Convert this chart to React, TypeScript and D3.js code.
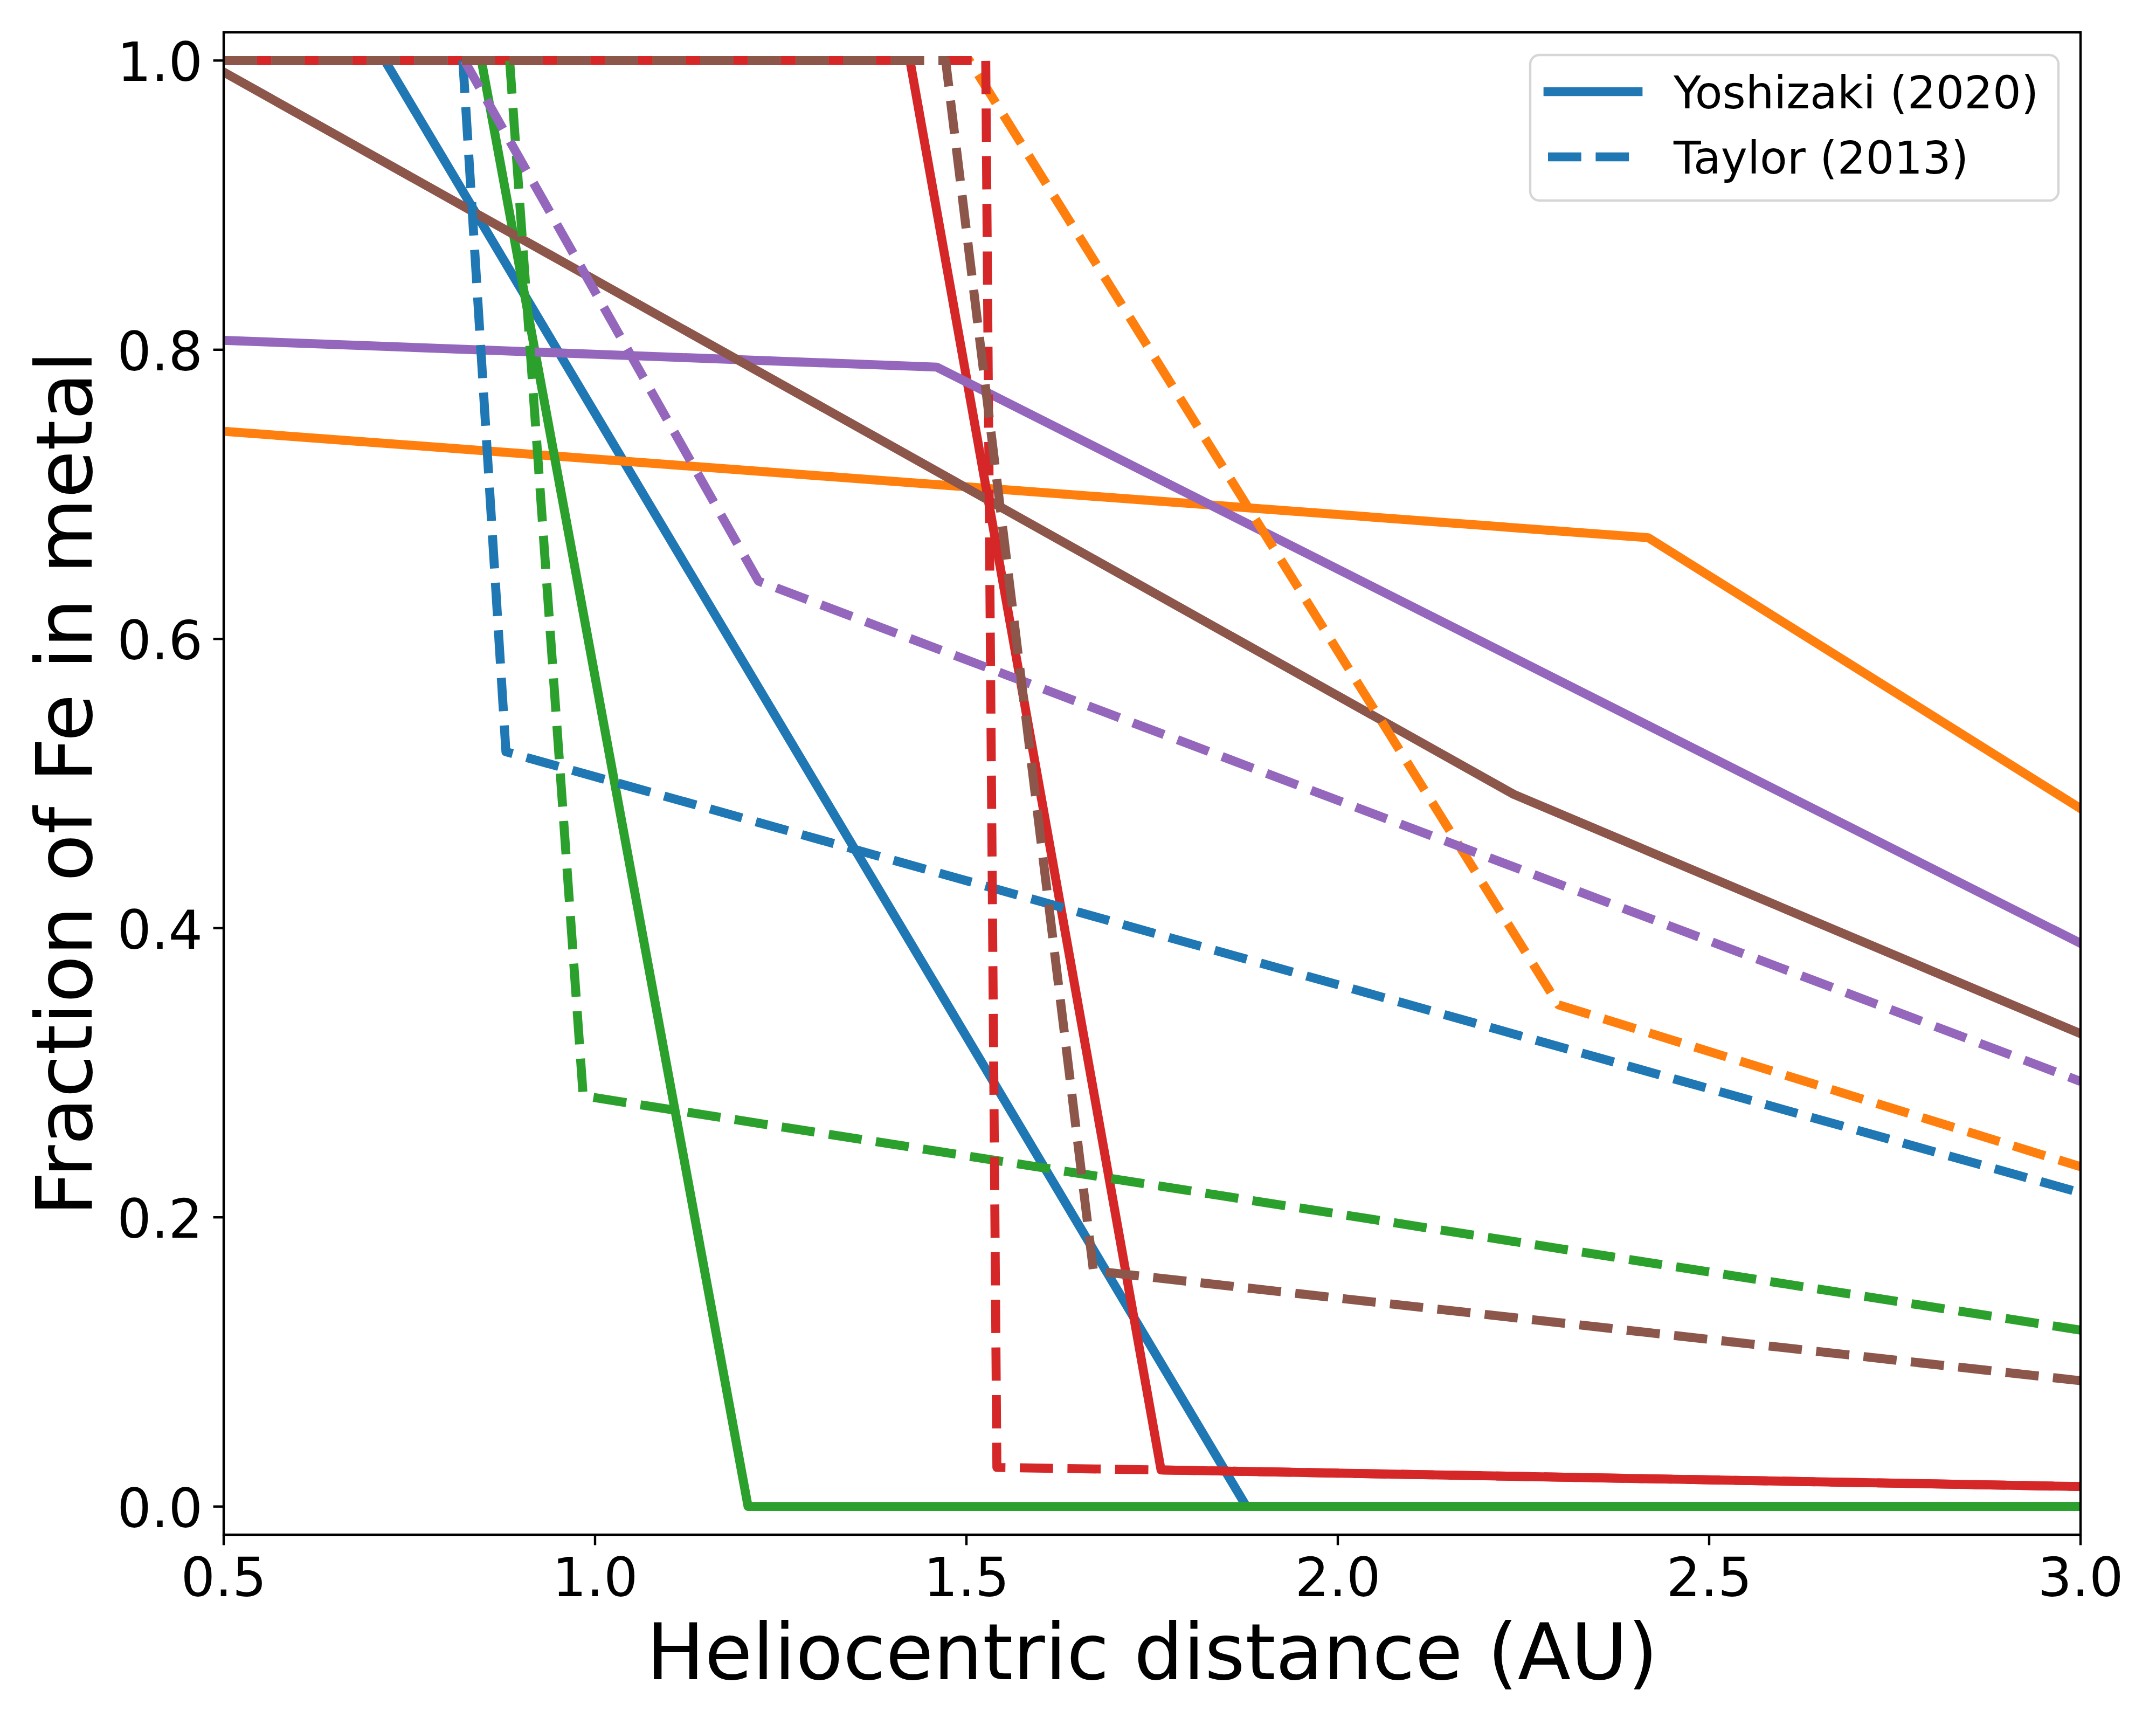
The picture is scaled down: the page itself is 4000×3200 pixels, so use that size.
import React, { useEffect, useRef } from 'react';
import * as d3 from 'd3';

type Pt = [number, number];

// Yoshizaki (2020) curves, one per colour (solid)
const yoshizakiBlue: Pt[] = [[0.5, 1.0], [0.717, 1.0], [1.877, 0.0], [3.0, 0.0]];
const yoshizakiOrange: Pt[] = [[0.5, 0.7436], [2.418, 0.67], [3.0, 0.4827]];
const yoshizakiGreen: Pt[] = [[0.5, 1.0], [0.847, 1.0], [1.206, 0.0], [3.0, 0.0]];
const yoshizakiRed: Pt[] = [[0.5, 1.0], [1.424, 1.0], [1.762, 0.0253], [3.0, 0.0138]];
const yoshizakiPurple: Pt[] = [[0.5, 0.8065], [1.46, 0.788], [3.0, 0.3895]];
const yoshizakiBrown: Pt[] = [[0.5, 0.992], [2.237, 0.4925], [3.0, 0.327]];

// Taylor (2013) curves (dashed)
const taylorBlue: Pt[] = [[0.5, 1.0], [0.822, 1.0], [0.88, 0.522], [3.0, 0.217]];
const taylorOrange: Pt[] = [[0.5, 1.0], [1.504, 1.0], [2.297, 0.347], [3.0, 0.235]];
const taylorGreen: Pt[] = [[0.5, 1.0], [0.885, 1.0], [0.984, 0.284], [3.0, 0.122]];
const taylorRed: Pt[] = [[0.5, 1.0], [1.526, 1.0], [1.541, 0.027], [1.762, 0.0253], [3.0, 0.0138]];
const taylorPurple: Pt[] = [[0.5, 1.0], [0.824, 1.0], [1.22, 0.64], [3.0, 0.294]];
const taylorBrown: Pt[] = [[0.5, 1.0], [1.472, 1.0], [1.671, 0.163], [3.0, 0.087]];

const colors = ['#1f77b4', '#ff7f0e', '#2ca02c', '#d62728', '#9467bd', '#8c564b'];
const solidSeries = [yoshizakiBlue, yoshizakiOrange, yoshizakiGreen, yoshizakiRed, yoshizakiPurple, yoshizakiBrown];
const dashedSeries = [taylorBlue, taylorOrange, taylorGreen, taylorRed, taylorPurple, taylorBrown];

const xTicks = [0.5, 1.0, 1.5, 2.0, 2.5, 3.0];
const yTicks = [0.0, 0.2, 0.4, 0.6, 0.8, 1.0];
const legendLabels = ['Yoshizaki (2020)', 'Taylor (2013)'];

const W = 4000;
const H = 3200;
const FONT = 'DejaVu Sans, sans-serif';

export default function App() {
  const svgRef = useRef<SVGSVGElement>(null);

  useEffect(() => {
    if (!svgRef.current) return;
    const svg = d3.select(svgRef.current);
    svg.selectAll('*').remove();

    const left = 415, right = 3860, top = 60, bottom = 2847;
    const x = d3.scaleLinear().domain([0.5, 3.0]).range([left, right]);
    const y = d3.scaleLinear().domain([-0.0195, 1.0195]).range([bottom, top]);

    const lw = 16.7;
    const tickLen = 19.4;
    const spineW = 4.4;
    const dash = '61.7 26.7';

    svg.append('rect').attr('width', W).attr('height', H).attr('fill', '#fff');

    svg.append('defs').append('clipPath').attr('id', 'plot-clip')
      .append('rect')
      .attr('x', left).attr('y', top)
      .attr('width', right - left).attr('height', bottom - top);

    const line = d3.line<Pt>().x(d => x(d[0])).y(d => y(d[1]));
    const plot = svg.append('g').attr('clip-path', 'url(#plot-clip)');

    // solid first, then dashed on top
    solidSeries.forEach((s, i) => {
      plot.append('path')
        .attr('d', line(s))
        .attr('fill', 'none')
        .attr('stroke', colors[i])
        .attr('stroke-width', lw)
        .attr('stroke-linejoin', 'round')
        .attr('stroke-linecap', 'square');
    });
    dashedSeries.forEach((s, i) => {
      plot.append('path')
        .attr('d', line(s))
        .attr('fill', 'none')
        .attr('stroke', colors[i])
        .attr('stroke-width', lw)
        .attr('stroke-linejoin', 'round')
        .attr('stroke-linecap', 'butt')
        .attr('stroke-dasharray', dash);
    });

    // frame
    svg.append('rect')
      .attr('x', left).attr('y', top)
      .attr('width', right - left).attr('height', bottom - top)
      .attr('fill', 'none')
      .attr('stroke', '#000')
      .attr('stroke-width', spineW);

    // x ticks
    const gx = svg.append('g');
    xTicks.forEach(t => {
      gx.append('line')
        .attr('x1', x(t)).attr('x2', x(t))
        .attr('y1', bottom).attr('y2', bottom + tickLen)
        .attr('stroke', '#000').attr('stroke-width', spineW);
      gx.append('text')
        .attr('x', x(t)).attr('y', 2961)
        .attr('text-anchor', 'middle')
        .attr('font-family', FONT).attr('font-size', 100)
        .text(d3.format('.1f')(t));
    });

    // y ticks
    const gy = svg.append('g');
    yTicks.forEach(t => {
      gy.append('line')
        .attr('x1', left - tickLen).attr('x2', left)
        .attr('y1', y(t)).attr('y2', y(t))
        .attr('stroke', '#000').attr('stroke-width', spineW);
      gy.append('text')
        .attr('x', left - tickLen - 19.4).attr('y', y(t) + 38)
        .attr('text-anchor', 'end')
        .attr('font-family', FONT).attr('font-size', 100)
        .text(d3.format('.1f')(t));
    });

    // axis labels
    svg.append('text')
      .attr('x', (left + right) / 2).attr('y', 3115)
      .attr('text-anchor', 'middle')
      .attr('font-family', FONT).attr('font-size', 144)
      .text('Heliocentric distance (AU)');

    svg.append('text')
      .attr('transform', `translate(170,${(top + bottom) / 2}) rotate(-90)`)
      .attr('text-anchor', 'middle')
      .attr('font-family', FONT).attr('font-size', 144)
      .text('Fraction of Fe in metal');

    // legend
    const lg = svg.append('g');
    lg.append('rect')
      .attr('x', 2839).attr('y', 102)
      .attr('width', 980).attr('height', 270)
      .attr('rx', 17)
      .attr('fill', 'rgba(255,255,255,0.8)')
      .attr('stroke', 'rgba(204,204,204,0.8)')
      .attr('stroke-width', spineW);

    const rows = [170, 291];
    legendLabels.forEach((label, i) => {
      lg.append('line')
        .attr('x1', 2872).attr('x2', 3039)
        .attr('y1', rows[i]).attr('y2', rows[i])
        .attr('stroke', colors[0])
        .attr('stroke-width', lw)
        .attr('stroke-linecap', i === 0 ? 'square' : 'butt')
        .attr('stroke-dasharray', i === 0 ? null : dash);
      lg.append('text')
        .attr('x', 3105).attr('y', rows[i] + 31)
        .attr('font-family', FONT).attr('font-size', 83)
        .text(label);
    });
  }, []);

  return (
    <svg
      ref={svgRef}
      width={W}
      height={H}
      viewBox={`0 0 ${W} ${H}`}
      style={{ position: 'absolute', left: 0, top: 0 }}
    />
  );
}
